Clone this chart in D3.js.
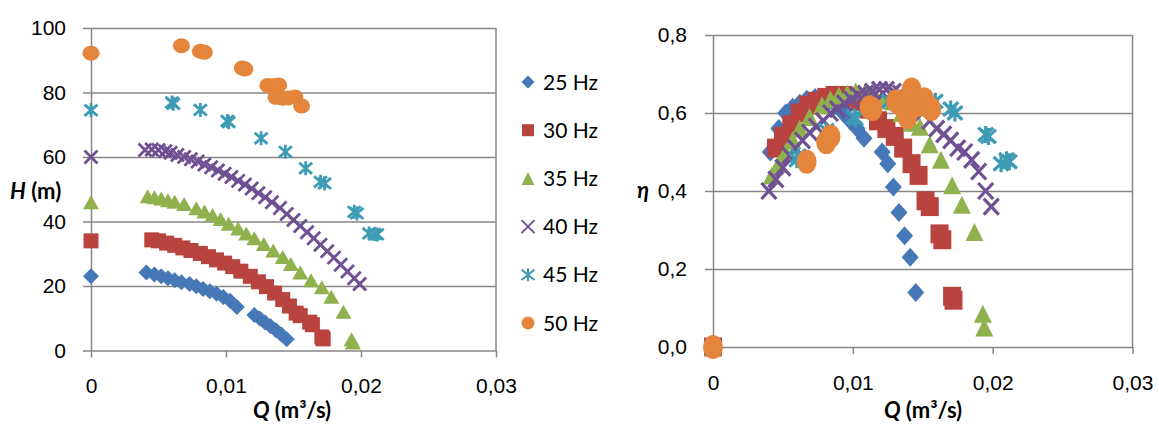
<!DOCTYPE html>
<meta charset="utf-8">
<style>
  body { margin: 0; background: #fff; }
  svg { font-family: Lato, "Open Sans", sans-serif; }
  .axis text { font-size: 21px; fill: #000; }
  .axis path, .axis line { stroke: #868686; stroke-width: 1.5px; }
  .grid line { stroke: #868686; stroke-width: 1.5px; }
  .grid path { display: none; }
  .title { font-size: 22px; font-weight: bold; }
  .legend text { font-size: 21px; }
</style>
<body>
<svg width="1159" height="424"></svg>
<script src="https://cdn.jsdelivr.net/npm/d3@7"></script>
<script>
// series names / colours
const seriesNames = ["25 Hz", "30 Hz", "35 Hz", "40 Hz", "45 Hz", "50 Hz"];
const seriesColors = ["#4677b6", "#b9443f", "#8fb14e", "#6e5093", "#3e9bb5", "#e4853b"];
const seriesMarkers = ["diamond", "square", "triangle", "cross", "asterisk", "circle"];

// flow rate Q (m3/s), head H (m), efficiency eta
const q25 = [0, 0.0041, 0.0047, 0.0052, 0.0057, 0.0062, 0.0067, 0.0073, 0.0078, 0.0083, 0.0088, 0.0093, 0.0098, 0.0103, 0.0108, 0.0121, 0.0125, 0.0129, 0.0133, 0.0137, 0.0141, 0.0145];
const h25 = [23.0, 24.2, 23.6, 23.0, 22.4, 21.8, 21.2, 20.6, 19.9, 19.1, 18.4, 17.6, 16.6, 15.4, 13.5, 11.0, 9.9, 8.7, 7.5, 6.3, 5.0, 3.5];
const e25 = [0, 0.50, 0.56, 0.60, 0.615, 0.625, 0.635, 0.64, 0.64, 0.63, 0.62, 0.60, 0.58, 0.56, 0.535, 0.50, 0.47, 0.41, 0.345, 0.285, 0.23, 0.14];

const q30 = [0, 0.0045, 0.0050, 0.0056, 0.0062, 0.0068, 0.0074, 0.0081, 0.0087, 0.0093, 0.0099, 0.0105, 0.0111, 0.0118, 0.0124, 0.0130, 0.0136, 0.0142, 0.0147, 0.0152, 0.0155, 0.0162, 0.0164, 0.0171, 0.0172];
const h30 = [34.0, 34.3, 34.0, 33.3, 32.6, 31.8, 31.0, 30.1, 29.1, 28.1, 27.1, 26.0, 24.6, 23.0, 21.3, 19.8, 17.8, 15.8, 13.8, 11.6, 10.8, 8.8, 8.0, 4.2, 3.6];
const e30 = [0, 0.51, 0.54, 0.57, 0.60, 0.62, 0.63, 0.64, 0.645, 0.645, 0.64, 0.63, 0.61, 0.58, 0.56, 0.54, 0.51, 0.47, 0.44, 0.375, 0.36, 0.29, 0.275, 0.13, 0.12];

const q35 = [0, 0.0042, 0.0047, 0.0052, 0.0057, 0.0062, 0.0069, 0.0078, 0.0084, 0.0090, 0.0096, 0.0102, 0.0109, 0.0115, 0.0121, 0.0128, 0.0135, 0.0142, 0.0148, 0.0155, 0.0163, 0.0171, 0.0178, 0.0187, 0.0193, 0.0194];
const h35 = [46.0, 47.8, 47.5, 47.1, 46.6, 46.1, 45.4, 44.1, 43.1, 42.0, 40.8, 39.3, 37.8, 36.3, 34.8, 33.0, 31.0, 29.0, 26.8, 24.2, 21.8, 19.6, 16.7, 12.0, 3.5, 2.5];
const e35 = [0, 0.44, 0.47, 0.50, 0.53, 0.56, 0.59, 0.62, 0.635, 0.645, 0.65, 0.655, 0.655, 0.65, 0.64, 0.63, 0.60, 0.575, 0.565, 0.52, 0.48, 0.415, 0.365, 0.295, 0.085, 0.05];

const q40 = [0, 0.0040, 0.0045, 0.0050, 0.0055, 0.0059, 0.0064, 0.0069, 0.0074, 0.0079, 0.0084, 0.0089, 0.0094, 0.0099, 0.0104, 0.0109, 0.0114, 0.0119, 0.0124, 0.0129, 0.0134, 0.0140, 0.0145, 0.0150, 0.0155, 0.0160, 0.0165, 0.0170, 0.0175, 0.0180, 0.0185, 0.0190, 0.0195, 0.0199];
const h40 = [60.0, 62.2, 62.3, 62.2, 61.8, 61.3, 60.6, 60.0, 59.3, 58.6, 57.7, 56.8, 55.8, 54.8, 53.8, 52.6, 51.5, 50.2, 48.8, 47.5, 46.0, 44.2, 42.3, 40.5, 38.6, 36.7, 34.8, 32.8, 30.8, 28.8, 26.6, 24.5, 22.4, 20.6];
const e40 = [0, 0.40, 0.43, 0.46, 0.49, 0.51, 0.53, 0.55, 0.565, 0.58, 0.60, 0.61, 0.625, 0.635, 0.645, 0.65, 0.655, 0.66, 0.66, 0.655, 0.65, 0.64, 0.62, 0.60, 0.58, 0.56, 0.545, 0.53, 0.51, 0.50, 0.48, 0.45, 0.40, 0.36];

const q45 = [0, 0.0060, 0.0061, 0.0081, 0.0101, 0.0102, 0.0126, 0.0144, 0.0159, 0.0170, 0.0173, 0.0195, 0.0197, 0.0206, 0.0210, 0.0212];
const h45 = [74.5, 76.9, 76.5, 74.6, 71.2, 70.8, 65.8, 61.6, 56.5, 52.3, 51.8, 43.0, 42.5, 36.3, 36.1, 36.0];
const e45 = [0, 0.48, 0.49, 0.555, 0.59, 0.585, 0.63, 0.64, 0.63, 0.61, 0.60, 0.545, 0.54, 0.47, 0.48, 0.475];

const q50 = [0, 0.0067, 0.0081, 0.0084, 0.0112, 0.0114, 0.0131, 0.0135, 0.0139, 0.0137, 0.0142, 0.0146, 0.0151, 0.0156];
const h50 = [92.2, 94.5, 92.8, 92.5, 87.6, 87.3, 82.2, 82.1, 82.3, 78.5, 78.2, 78.3, 78.6, 75.8];
const e50 = [0, 0.475, 0.525, 0.54, 0.615, 0.61, 0.63, 0.62, 0.59, 0.625, 0.66, 0.62, 0.635, 0.61];

// tick values
const qTicks = [0, 0.01, 0.02, 0.03];
const hTicks = [0, 20, 40, 60, 80, 100];
const etaTicks = [0, 0.2, 0.4, 0.6, 0.8];

const qs = [q25, q30, q35, q40, q45, q50];
const hs = [h25, h30, h35, h40, h45, h50];
const es = [e25, e30, e35, e40, e45, e50];

const svg = d3.select("svg");
svg.append("rect").attr("width", 1159).attr("height", 424).attr("fill", "#fff");

const fmtQ = d => d === 0 ? "0" : d.toFixed(2).replace(".", ",");

// marker outline, centred at 0,0, w x h box
function markerPath(kind, w, h) {
  const a = w / 2, b = h / 2;
  if (kind === "diamond") return `M0,${-b}L${a},0L0,${b}L${-a},0Z`;
  if (kind === "square") return `M${-a},${-b}H${a}V${b}H${-a}Z`;
  if (kind === "triangle") return `M0,${-b}L${a},${b}L${-a},${b}Z`;
  if (kind === "cross") return `M${-a},${-b}L${a},${b}M${a},${-b}L${-a},${b}`;
  if (kind === "asterisk") return `M${-a},${-b * 0.8}L${a},${b * 0.8}M${a},${-b * 0.8}L${-a},${b * 0.8}M0,${-b}V${b}`;
  return null;
}

function drawMarker(g, kind, color, w, h, sw) {
  if (kind === "circle") {
    g.append("ellipse").attr("rx", w / 2).attr("ry", h / 2).attr("fill", color);
  } else if (kind === "cross" || kind === "asterisk") {
    g.append("path").attr("d", markerPath(kind, w, h)).attr("stroke", color)
      .attr("stroke-width", sw).attr("fill", "none");
  } else {
    g.append("path").attr("d", markerPath(kind, w, h)).attr("fill", color);
  }
}

// marker box sizes per chart: [w, h] per series
const sizesL = [[16, 16], [15, 15], [16, 14], [13, 13], [13, 14], [17, 15]];
const sizesR = [[17, 19], [18, 19], [18, 18], [15, 16], [15, 17], [20, 24]];

function chart(x, y, yTicks, yFmt, yValues, tickPadY, sizes, sw) {
  const [x0, x1] = x.range();
  const [yb, yt] = y.range();
  const g = svg.append("g");

  // horizontal gridlines
  g.append("g").attr("class", "grid")
    .attr("transform", `translate(${x0},0)`)
    .call(d3.axisLeft(y).tickValues(yTicks.filter(d => d !== 0)).tickSize(-(x1 - x0)).tickFormat(""));

  // right border
  g.append("line").attr("x1", x1).attr("x2", x1).attr("y1", yt).attr("y2", yb)
    .attr("stroke", "#868686").attr("stroke-width", 1.5);

  g.append("g").attr("class", "axis")
    .attr("transform", `translate(0,${yb})`)
    .call(d3.axisBottom(x).tickValues(qTicks).tickSize(7).tickSizeOuter(0).tickPadding(21).tickFormat(fmtQ));

  g.append("g").attr("class", "axis")
    .attr("transform", `translate(${x0},0)`)
    .call(d3.axisLeft(y).tickValues(yTicks).tickSize(8).tickSizeOuter(0).tickPadding(tickPadY).tickFormat(yFmt));

  // series
  seriesNames.forEach((name, i) => {
    const sg = g.append("g");
    qs[i].forEach((q, j) => {
      const m = sg.append("g").attr("transform", `translate(${x(q)},${y(yValues[i][j])})`);
      drawMarker(m, seriesMarkers[i], seriesColors[i], sizes[i][0], sizes[i][1], sw);
    });
  });
  return g;
}

const xL = d3.scaleLinear().domain([0, 0.03]).range([91, 496]);
const yL = d3.scaleLinear().domain([0, 100]).range([350.5, 28]);
chart(xL, yL, hTicks, d => String(d), hs, 17, sizesL, 2.8);

const xR = d3.scaleLinear().domain([0, 0.03]).range([713, 1132.5]);
const yR = d3.scaleLinear().domain([0, 0.8]).range([347, 35]);
chart(xR, yR, etaTicks, d => d.toFixed(1).replace(".", ","), es, 18, sizesR, 3.2);

// axis titles
function qTitle(cx, yb) {
  const t = svg.append("text").attr("class", "title").attr("x", cx).attr("y", yb).attr("text-anchor", "middle");
  t.append("tspan").attr("font-style", "italic").text("Q");
  t.append("tspan").text(" (m³/s)");
}
qTitle(292, 418);
qTitle(923, 418);

const hT = svg.append("text").attr("class", "title").attr("x", 10).attr("y", 199);
hT.append("tspan").attr("font-style", "italic").text("H");
hT.append("tspan").text(" (m)");

svg.append("text").attr("class", "title").attr("x", 637).attr("y", 198)
  .attr("font-style", "italic").text("η");

// legend
const legendY = d3.scalePoint().domain(seriesNames).range([82, 323]);
const lg = svg.append("g").attr("class", "legend");
seriesNames.forEach((name, i) => {
  const m = lg.append("g").attr("transform", `translate(528,${legendY(name)})`);
  drawMarker(m, seriesMarkers[i], seriesColors[i], i === 1 ? 12 : 13, i === 1 ? 12 : 13, 2);
  lg.append("text").attr("x", 543).attr("y", legendY(name)).attr("dy", "0.36em").text(name);
});
</script>
</body>
